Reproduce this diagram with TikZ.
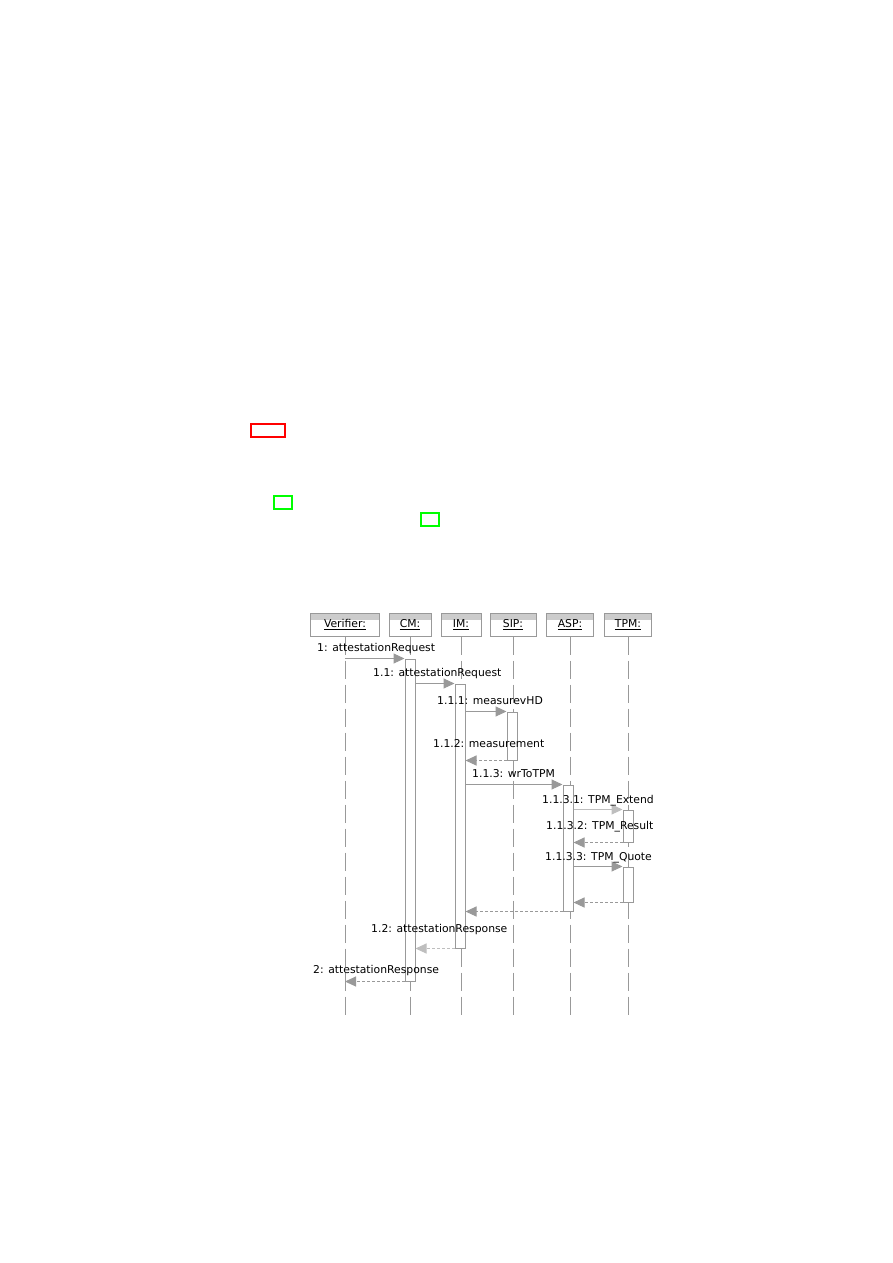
\documentclass[tikz,border=0pt]{standalone}
\usepackage{fontspec}
\setmainfont{DejaVu Sans}
\usepackage{xcolor}
\usepackage{tikz}
\usetikzlibrary{arrows.meta}
\definecolor{linegray}{HTML}{999999}
\definecolor{faintgray}{HTML}{BEBEBE}
\definecolor{headgray}{HTML}{CCCCCC}
\definecolor{markred}{HTML}{FF0000}
\definecolor{markgreen}{HTML}{00FF00}

\tikzset{
  head/.style={draw=linegray, fill=white, line width=1pt, minimum height=23pt, inner sep=0pt,
    font=\fontsize{10.8pt}{13pt}\selectfont,
    path picture={\fill[headgray] (path picture bounding box.north west) rectangle ([yshift=-7pt]path picture bounding box.north east);}},
  lifeline/.style={draw=linegray, line width=1pt, dash pattern=on 18pt off 6pt},
  actbar/.style={draw=linegray, fill=white, line width=1pt, minimum width=10pt, inner sep=0pt},
  call/.style={draw=linegray, line width=1pt, -{Triangle[length=11pt,width=10pt]}},
  reply/.style={call, dash pattern=on 3pt off 2pt},
  msglabel/.style={anchor=base west, inner sep=0pt, font=\fontsize{10.8pt}{13pt}\selectfont}
}

\begin{document}
\begin{tikzpicture}[x=1pt, y=-1pt]
\useasboundingbox (0,0) rectangle (893,1263);
% stray marker boxes
\draw[markred, line width=1.3pt] (251,424) rectangle (285,437);
\draw[markgreen, line width=1.3pt] (274,496) rectangle (292,509);
\draw[markgreen, line width=1.3pt] (421,513) rectangle (439,526);
% object heads
\node[head, minimum width=69pt] (verifier) at (345,624.5) {\underline{Verifier:}};
\node[head, minimum width=42pt] (cm) at (410,624.5) {\underline{CM:}};
\node[head, minimum width=40pt] (im) at (461,624.5) {\underline{IM:}};
\node[head, minimum width=46pt] (sip) at (513,624.5) {\underline{SIP:}};
\node[head, minimum width=47pt] (asp) at (570,624.5) {\underline{ASP:}};
\node[head, minimum width=47pt] (tpm) at (628,624.5) {\underline{TPM:}};
\coordinate (bottom) at (0,1018);
% lifelines
\draw[lifeline] (verifier.south) -- (verifier |- bottom);
\draw[lifeline] (cm.south) -- (cm |- bottom);
\draw[lifeline] (im.south) -- (im |- bottom);
\draw[lifeline] (sip.south) -- (sip |- bottom);
\draw[lifeline] (asp.south) -- (asp |- bottom);
\draw[lifeline] (tpm.south) -- (tpm |- bottom);
% activations
\node[actbar, minimum height=322pt] (cmact) at (410,820) {};
\node[actbar, minimum height=264pt] (imact) at (460,816) {};
\node[actbar, minimum height=48pt] (sipact) at (512,736) {};
\node[actbar, minimum height=126pt] (aspact) at (568,848) {};
\node[actbar, minimum height=32pt] (tpmacta) at (628,826) {};
\node[actbar, minimum height=35pt] (tpmactb) at (628,884.5) {};
% messages
\draw[call] (verifier |- cmact.north) -- (cmact.north west);
\draw[call] (cmact.east |- imact.north) -- (imact.north west);
\draw[call] (imact.east |- sipact.north) -- (sipact.north west);
\draw[reply] (sipact.south west) -- (imact.east |- sipact.south);
\draw[call] (imact.east |- aspact.north) -- (aspact.north west);
\draw[call, draw=faintgray] (aspact.east |- tpmacta.north) -- (tpmacta.north west);
\draw[reply] (tpmacta.south west) -- (aspact.east |- tpmacta.south);
\draw[call] (aspact.east |- tpmactb.north) -- (tpmactb.north west);
\draw[reply] (tpmactb.south west) -- (aspact.east |- tpmactb.south);
\draw[reply] (aspact.south west) -- (imact.east |- aspact.south);
\draw[reply, draw=faintgray] (imact.south west) -- (cmact.east |- imact.south);
\draw[reply] (cmact.south west) -- (verifier |- cmact.south);
% message labels
\node[msglabel] (m1) at (317,651) {1: attestationRequest};
\node[msglabel] (m11) at (373,676) {1.1: attestationRequest};
\node[msglabel] (m111) at (437,704) {1.1.1: measurevHD};
\node[msglabel] (m112) at (433,747) {1.1.2: measurement};
\node[msglabel] (m113) at (472,777) {1.1.3: wrToTPM};
\node[msglabel] (m1131) at (542,803) {1.1.3.1: TPM\_Extend};
\node[msglabel] (m1132) at (546,829) {1.1.3.2: TPM\_Result};
\node[msglabel] (m1133) at (545,860) {1.1.3.3: TPM\_Quote};
\node[msglabel] (m12) at (371,932) {1.2: attestationResponse};
\node[msglabel] (m2) at (313,973) {2: attestationResponse};
\end{tikzpicture}
\end{document}
